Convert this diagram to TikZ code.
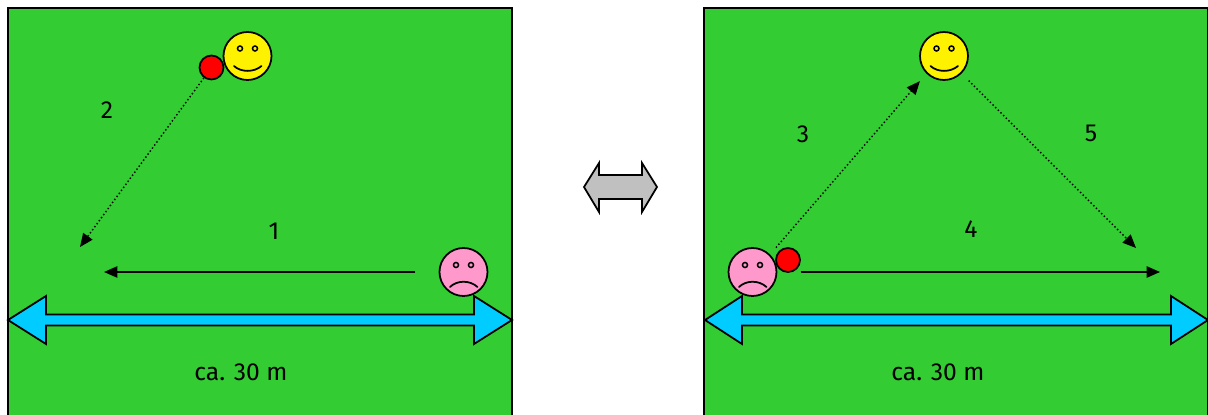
\documentclass[tikz,border=0pt]{standalone}
\usepackage{fontspec}
\setmainfont{Fira Sans}
\usetikzlibrary{arrows.meta}
\definecolor{grass}{HTML}{33CC33}
\definecolor{wide}{HTML}{00CCFF}
\definecolor{sad}{HTML}{FF99CC}
\definecolor{swap}{HTML}{C0C0C0}
\tikzset{
  field/.style={draw=black,fill=grass,line width=1.6pt},
  face/.style={circle,draw=black,line width=1.5pt,minimum size=14.4mm,inner sep=0pt},
  ball/.style={circle,draw=black,fill=red,line width=1.5pt,minimum size=7.2mm,inner sep=0pt},
  feature/.style={line width=1.5pt,line cap=round},
  eye/.style={draw=black,line width=1.3pt},
  throw/.style={line width=1.2pt,dotted,-{Triangle[length=4mm,width=3.4mm]}},
  pass/.style={line width=1.2pt,-{Triangle[length=4mm,width=3.4mm]}},
  span/.style={draw=black,fill=wide,line width=1.5pt},
  label/.style={font=\fontsize{21}{24}\selectfont}
}
\begin{document}
\begin{tikzpicture}[x=.3mm,y=-.3mm]
\useasboundingbox (0,0) rectangle (1208,415);

% left field
\draw[field] (8,8) rectangle (512,430);

\node[face,fill=yellow] (happy1) at (247.5,56) {};
\draw[eye] (240,48.5) circle (2.5);
\draw[eye] (255,48.5) circle (2.5);
\draw[feature] (234,66) .. controls (241,72.5) and (254,72.5) .. (261.5,66);
\node[ball] (ball1) at (211.5,67.5) {};

\node[face,fill=sad] (sad1) at (463.5,272) {};
\draw[eye] (456,265) circle (2.5);
\draw[eye] (471,265) circle (2.5);
\draw[feature] (450,287) .. controls (457,280) and (470,280) .. (477.5,287);

\coordinate (end1) at (104,272);
\coordinate (end2) at (80,247);
\draw[pass,shorten <=7mm] (sad1.west) -- (end1);
\draw[throw] (ball1) -- (end2);

\filldraw[span] (8,320) -- (46,296) -- (46,314.5) -- (474,314.5) -- (474,296) -- (512,320) -- (474,344) -- (474,325.5) -- (46,325.5) -- (46,344) -- cycle;

\node[label] (num1) at (274,231) {1};
\node[label] (num2) at (107,110) {2};
\node[label] (dist1) at (241,372) {ca. 30 m};

% swap arrow
\filldraw[draw=black,fill=swap,line width=1.5pt] (584,187) -- (599,163) -- (599,175) -- (642,175) -- (642,163) -- (657,187) -- (642,212) -- (642,199) -- (599,199) -- (599,212) -- cycle;

% right field
\draw[field] (704,8) rectangle (1208,430);

\node[face,fill=yellow] (happy2) at (944,56) {};
\draw[eye] (936.5,48.5) circle (2.5);
\draw[eye] (951.5,48.5) circle (2.5);
\draw[feature] (930.5,66) .. controls (937.5,72.5) and (950.5,72.5) .. (958,66);

\node[face,fill=sad] (sad2) at (752.5,272) {};
\draw[eye] (745,265) circle (2.5);
\draw[eye] (760,265) circle (2.5);
\draw[feature] (739,287) .. controls (746,280) and (759,280) .. (766.5,287);
\node[ball] (ball2) at (788,260) {};

\coordinate (end4) at (1160,272);
\coordinate (end5) at (1136,248);
\draw[throw,shorten <=2.7mm,shorten >=3mm] (sad2.north east) -- (happy2.south west);
\draw[pass,shorten <=7mm] (sad2.east) -- (end4);
\draw[throw,shorten <=3mm] (happy2.south east) -- (end5);

\filldraw[span] (705,320) -- (742,296) -- (742,314.5) -- (1171,314.5) -- (1171,296) -- (1208,320) -- (1171,344) -- (1171,325.5) -- (742,325.5) -- (742,344) -- cycle;

\node[label] (num3) at (803,134) {3};
\node[label] (num4) at (971,229) {4};
\node[label] (num5) at (1091,133) {5};
\node[label] (dist2) at (938,372) {ca. 30 m};
\end{tikzpicture}
\end{document}
